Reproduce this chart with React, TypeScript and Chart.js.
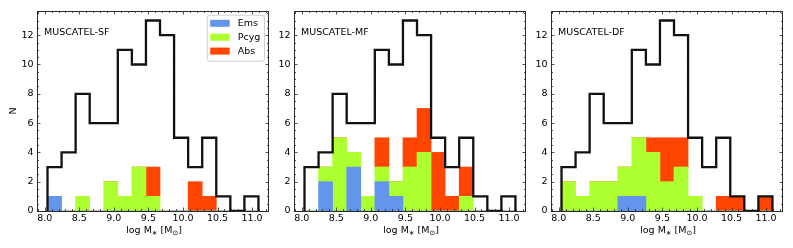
import React, { useEffect, useRef } from "react";
import { Chart, registerables } from "chart.js";

Chart.register(...registerables);

// ---------- data ----------
const BIN_EDGES = [
  8.04, 8.2435, 8.447, 8.6505, 8.854, 9.0575, 9.261, 9.4645, 9.668, 9.8715,
  10.075, 10.2785, 10.482, 10.6855, 10.889, 11.0925,
];
const TOTAL = [3, 4, 8, 6, 6, 11, 10, 13, 12, 5, 3, 5, 1, 0, 1];

const SF_EMS = [1, 0, 0, 0, 0, 0, 0, 0, 0, 0, 0, 0, 0, 0, 0];
const SF_PCYG = [0, 0, 1, 0, 2, 1, 3, 1, 0, 0, 0, 0, 0, 0, 0];
const SF_ABS = [0, 0, 0, 0, 0, 0, 0, 2, 0, 0, 2, 1, 0, 0, 0];

const MF_EMS = [0, 2, 0, 3, 0, 2, 1, 0, 0, 0, 0, 0, 0, 0, 0];
const MF_PCYG = [0, 1, 5, 1, 1, 1, 1, 3, 4, 0, 0, 1, 0, 0, 0];
const MF_ABS = [0, 0, 0, 0, 0, 2, 0, 2, 3, 4, 1, 2, 0, 0, 0];

const DF_EMS = [0, 0, 0, 0, 1, 1, 0, 0, 0, 0, 0, 0, 0, 0, 0];
const DF_PCYG = [2, 1, 2, 2, 2, 4, 4, 2, 3, 1, 0, 0, 0, 0, 0];
const DF_ABS = [0, 0, 0, 0, 0, 0, 1, 3, 2, 0, 0, 1, 1, 0, 1];

const SERIES_LABELS = ["Ems", "Pcyg", "Abs"];
const SERIES_COLORS = ["#6495ED", "#ADFF2F", "#FF4500"];

const PANEL_NAMES = ["MUSCATEL-SF", "MUSCATEL-MF", "MUSCATEL-DF"];

const X_TICKS = [8.0, 8.5, 9.0, 9.5, 10.0, 10.5, 11.0];
const Y_TICKS = [0, 2, 4, 6, 8, 10, 12];
const X_MIN = 7.888;
const X_MAX = 11.245;
const Y_MIN = 0;
const Y_MAX = 13.65;

// ---------- layout ----------
const FAM = "'DejaVu Sans', 'Liberation Sans', sans-serif";
const FS = 9.5;
const PLOT_LEFTS = [37, 294, 551];
const PLOT_W = 232;
const Y_AXIS_W = 37;
const RIGHT_PAD = 8;
const TOP_PAD = 11;
const X_AXIS_H = 37;
const CANVAS_H = 248;

function drawXTitle(ctx: CanvasRenderingContext2D, cx: number, cy: number) {
  const big = `${FS}px ${FAM}`;
  const small = `6.8px ${FAM}`;
  const parts = [
    { t: "log M", f: big, dy: 0 },
    { t: "\u2217", f: small, dy: 2 },
    { t: " [M", f: big, dy: 0 },
    { t: "\u2299", f: small, dy: 2 },
    { t: "]", f: big, dy: 0 },
  ];
  let total = 0;
  const widths: number[] = [];
  for (const p of parts) {
    ctx.font = p.f;
    const w = ctx.measureText(p.t).width;
    widths.push(w);
    total += w;
  }
  let x = cx - total / 2;
  ctx.textBaseline = "middle";
  ctx.textAlign = "left";
  ctx.fillStyle = "#000";
  parts.forEach((p, i) => {
    ctx.font = p.f;
    ctx.fillText(p.t, x, cy + p.dy);
    x += widths[i];
  });
}

function makeDecor(panelIndex: number) {
  return {
    id: "decor" + panelIndex,
    afterDraw(chart: any) {
      const ctx: CanvasRenderingContext2D = chart.ctx;
      const { left, right, top, bottom } = chart.chartArea;
      const xs = chart.scales.x;
      const ys = chart.scales.y;
      ctx.save();
      // frame
      ctx.strokeStyle = "#2a2a2a";
      ctx.lineWidth = 1;
      ctx.strokeRect(Math.round(left) + 0.5, Math.round(top) + 0.5, Math.round(right - left) - 1, Math.round(bottom - top));
      // ticks (inward, all sides)
      const tick = (x1: number, y1: number, x2: number, y2: number) => {
        ctx.beginPath();
        ctx.moveTo(x1, y1);
        ctx.lineTo(x2, y2);
        ctx.stroke();
      };
      ctx.lineWidth = 0.8;
      for (let k = 79; k <= 112; k++) {
        const v = k / 10;
        if (v < X_MIN || v > X_MAX) continue;
        const major = k % 5 === 0;
        const len = major ? 3.5 : 2;
        const px = Math.round(xs.getPixelForValue(v)) + 0.5;
        tick(px, bottom, px, bottom - len);
        tick(px, top, px, top + len);
      }
      for (let k = 0; k <= 27; k++) {
        const v = k / 2;
        if (v > Y_MAX) continue;
        const major = k % 4 === 0;
        const len = major ? 3.5 : 2;
        const py = Math.round(ys.getPixelForValue(v)) + 0.5;
        tick(left, py, left + len, py);
        tick(right, py, right - len, py);
      }
      // panel label
      ctx.fillStyle = "#000";
      ctx.font = `${FS}px ${FAM}`;
      ctx.textAlign = "left";
      ctx.textBaseline = "middle";
      ctx.fillText(PANEL_NAMES[panelIndex], left + 7, 33);
      // x title
      drawXTitle(ctx, (left + right) / 2 + 1, 231);
      // y title + legend on first panel
      if (panelIndex === 0) {
        ctx.save();
        ctx.translate(13.3, (top + bottom) / 2);
        ctx.rotate(-Math.PI / 2);
        ctx.font = `${FS}px ${FAM}`;
        ctx.textAlign = "center";
        ctx.textBaseline = "middle";
        ctx.fillStyle = "#000";
        ctx.fillText("N", 0, 0);
        ctx.restore();

        const bx = right - 62.3;
        const by = top + 3.7;
        const bw = 57.3;
        const bh = 46;
        ctx.beginPath();
        ctx.roundRect(bx + 0.5, by + 0.5, bw, bh, 2.5);
        ctx.fillStyle = "rgba(255,255,255,0.8)";
        ctx.fill();
        ctx.strokeStyle = "#d0d0d0";
        ctx.lineWidth = 1;
        ctx.stroke();
        const bars = chart.data.datasets.filter((d: any) => d.type !== "line");
        bars.forEach((d: any, i: number) => {
          const cy = by + 8.6 + i * 13.9;
          ctx.fillStyle = d.backgroundColor;
          ctx.fillRect(bx + 3.5, cy - 3.5, 19.5, 7);
          ctx.fillStyle = "#000";
          ctx.font = `${FS}px ${FAM}`;
          ctx.textAlign = "left";
          ctx.textBaseline = "middle";
          ctx.fillText(d.label, bx + 31, cy);
        });
      }
      ctx.restore();
    },
  };
}

function Panel({ index, series }: { index: number; series: number[][] }) {
  const ref = useRef<HTMLCanvasElement>(null);
  useEffect(() => {
    if (!ref.current) return;
    const centers = BIN_EDGES.slice(0, -1).map((e, i) => (e + BIN_EDGES[i + 1]) / 2);
    const stepPts = [
      { x: BIN_EDGES[0], y: 0 },
      ...TOTAL.map((y, i) => ({ x: BIN_EDGES[i], y })),
      { x: BIN_EDGES[BIN_EDGES.length - 1], y: 0 },
    ];
    const barSets = series.map((arr, s) => ({
      type: "bar" as const,
      label: SERIES_LABELS[s],
      data: arr.map((y, i) => ({ x: centers[i], y })),
      backgroundColor: SERIES_COLORS[s],
      borderWidth: 0,
      barPercentage: 1,
      categoryPercentage: 1,
      stack: "f",
      order: 1,
    }));
    const chart = new Chart(ref.current, {
      type: "bar",
      data: {
        datasets: [
          ...barSets,
          {
            type: "line" as const,
            label: "all",
            data: stepPts,
            borderColor: "#111",
            borderWidth: 2.3,
            stepped: "before",
            pointRadius: 0,
            fill: false,
            stack: "outline",
            order: 0,
            borderJoinStyle: "miter",
            borderCapStyle: "butt",
          } as any,
        ],
      },
      options: {
        animation: false,
        responsive: false,
        devicePixelRatio: 1,
        events: [],
        layout: { padding: { left: 0, right: RIGHT_PAD, top: TOP_PAD, bottom: 0 } },
        plugins: { legend: { display: false }, tooltip: { enabled: false } },
        scales: {
          x: {
            type: "linear",
            min: X_MIN,
            max: X_MAX,
            offset: false,
            grid: { display: false, drawTicks: false },
            border: { display: false },
            ticks: {
              autoSkip: false,
              maxRotation: 0,
              padding: 1.5,
              color: "#000",
              font: { family: FAM, size: FS },
              callback: (v: any) => Number(v).toFixed(1),
            },
            afterBuildTicks: (scale: any) => {
              scale.ticks = X_TICKS.map((v) => ({ value: v }));
            },
            afterFit: (scale: any) => {
              scale.height = X_AXIS_H;
            },
          },
          y: {
            type: "linear",
            min: Y_MIN,
            max: Y_MAX,
            stacked: true,
            grid: { display: false, drawTicks: false },
            border: { display: false },
            ticks: {
              padding: 3.5,
              color: "#000",
              font: { family: FAM, size: FS },
              callback: (v: any) => String(v),
            },
            afterBuildTicks: (scale: any) => {
              scale.ticks = Y_TICKS.map((v) => ({ value: v }));
            },
            afterFit: (scale: any) => {
              scale.width = Y_AXIS_W;
            },
          },
        },
      } as any,
      plugins: [makeDecor(index)],
    });
    return () => chart.destroy();
  }, [index, series]);
  const w = Y_AXIS_W + PLOT_W + RIGHT_PAD;
  return (
    <canvas
      ref={ref}
      width={w}
      height={CANVAS_H}
      style={{ position: "absolute", left: PLOT_LEFTS[index] - Y_AXIS_W, top: 0, width: w, height: CANVAS_H, display: "block" }}
    />
  );
}

const PANEL_SERIES = [
  [SF_EMS, SF_PCYG, SF_ABS],
  [MF_EMS, MF_PCYG, MF_ABS],
  [DF_EMS, DF_PCYG, DF_ABS],
];

export default function App() {
  return (
    <div style={{ position: "absolute", left: 0, top: 0, width: 793, height: 248, background: "#fff", overflow: "hidden" }}>
      {PANEL_SERIES.map((s, i) => (
        <Panel key={i} index={i} series={s} />
      ))}
    </div>
  );
}
